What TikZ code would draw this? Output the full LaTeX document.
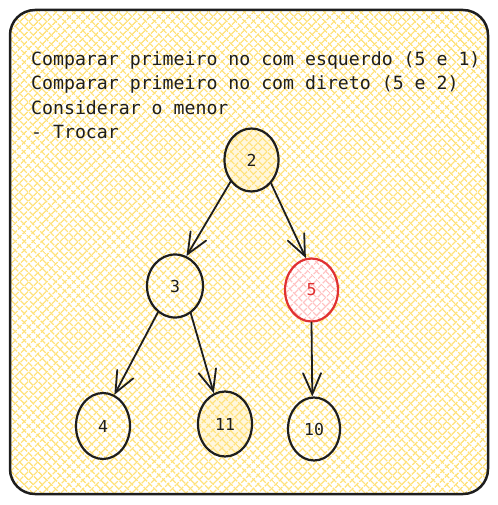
\documentclass[tikz,border=0pt]{standalone}
\usepackage{fontspec}
\setmonofont{DejaVu Sans Mono}
\usetikzlibrary{arrows.meta,patterns.meta,shapes.geometric}
\definecolor{ink}{HTML}{1E1E1E}
\definecolor{hatchyellow}{HTML}{FFE27A}
\definecolor{hatchred}{HTML}{FFC2C2}
\definecolor{strokered}{HTML}{E03131}

\begin{document}
\begin{tikzpicture}[%
      x=1pt, y=-1pt,
      hatch/.style={preaction={pattern={Lines[angle=45,distance=6.4pt,line width=1.7pt]},pattern color=#1},
                    pattern={Lines[angle=-45,distance=6.4pt,line width=1.7pt]},pattern color=#1},
      txt/.style={anchor=base west, inner sep=0pt, text=ink,
                  font=\ttfamily\fontsize{18.2}{22}\selectfont},
      heapnode/.style={ellipse, draw=ink, line width=2.2pt, inner sep=0pt,
                  minimum width=54pt, minimum height=63pt, text=ink,
                  font=\ttfamily\fontsize{16.5}{16.5}\selectfont},
      tint/.style={preaction={fill=hatchyellow, fill opacity=0.25}},
      edge/.style={draw=ink, line width=1.8pt, line cap=round,
                  -{Straight Barb[length=21pt,width=18pt,line cap=round]}},
      ]
      \useasboundingbox (0,0) rectangle (497,505);

      % card
      \fill [white, rounded corners=25pt] (10,10) rectangle (488,494);
      \fill [hatch=hatchyellow, rounded corners=25pt] (10,10) rectangle (488,494);
      \draw [ink, line width=2.5pt, rounded corners=25pt] (10,10) rectangle (488,494);

      \node [txt] (line1) at (31,65.5) {Comparar primeiro no com esquerdo (5 e 1)};
      \node [txt] (line2) at (31,90) {Comparar primeiro no com direto (5 e 2)};
      \node [txt] (line3) at (31,114.5) {Considerar o menor};
      \node [txt] (line4) at (31,139) {- Trocar};

      % heap
      \node [heapnode, tint] (n2) at (251.5,160) {2};
      \node [heapnode, minimum width=56pt] (n3) at (175,286) {3};
      \node [heapnode, draw=strokered, text=strokered, minimum width=53pt,
             preaction={fill=white}, hatch=hatchred] (n5) at (311.5,290) {5};
      \node [heapnode, minimum height=66pt] (n4) at (103,426) {4};
      \node [heapnode, tint, minimum height=65pt] (n11) at (225,424) {11};
      \node [heapnode, minimum width=52pt] (n10) at (314,429) {10};

      \draw [edge] (n2.226) -- (n3.69);
      \draw [edge] (n2.310) -- (n5.100);
      \draw [edge] (n3.237) -- (n4.70);
      \draw [edge] (n3.300) -- (n11.110);
      \draw [edge] (n5.270) -- (n10.93);
\end{tikzpicture}
\end{document}
